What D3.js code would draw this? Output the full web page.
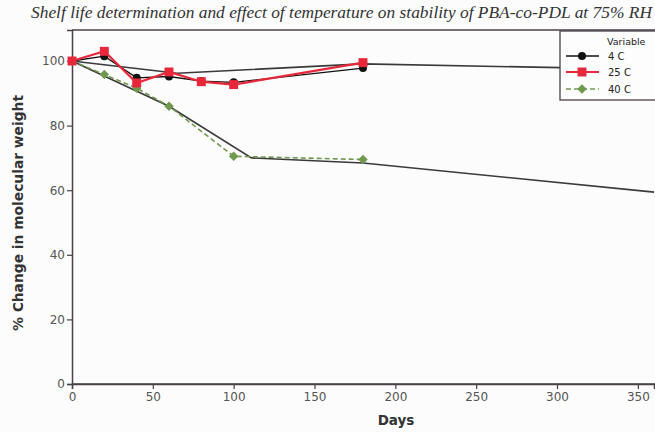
<!DOCTYPE html>
<html><head><meta charset="utf-8">
<script src="https://cdn.jsdelivr.net/npm/d3@7"></script>
<style>html,body{margin:0;padding:0;background:#fcfcfc;overflow:hidden}</style>
</head><body>
<svg id="c" width="655" height="432"></svg>
<script>
const titleText = "Shelf life determination and effect of temperature on stability of PBA-co-PDL at 75% RH";
const xLabel = "Days";
const yLabel = "% Change in molecular weight";
const xTicks = [0, 50, 100, 150, 200, 250, 300, 350];
const yTicks = [0, 20, 40, 60, 80, 100];
const seriesNames = ["4 C", "25 C", "40 C"];
const days = [0, 20, 40, 60, 80, 100, 180];
const days40 = [0, 20, 40, 60, 100, 180];
const values4 = [100, 101.5, 94.8, 95.2, 93.8, 93.4, 97.8];
const values25 = [100, 103, 93.2, 96.6, 93.6, 92.7, 99.5];
const values40 = [100, 95.8, 91.6, 86, 70.5, 69.5];
const trend4Days = [0, 65, 180, 360];
const trend4Vals = [100, 96.2, 99.1, 97.4];
const trend40Days = [0, 60, 111, 180, 360];
const trend40Vals = [100, 86, 70, 68.4, 59.4];

const svg = d3.select("#c");
const x = d3.scaleLinear().domain([0, 360]).range([72, 654]);
const y = d3.scaleLinear().domain([0, 109.6]).range([384, 30]);
const axisCol = "#4a4048";

// title
svg.append("text").attr("x", 31).attr("y", 18)
  .attr("font-family", "Liberation Serif").attr("font-style", "italic")
  .attr("font-size", 17).attr("fill", "#333")
  .attr("textLength", 621).attr("lengthAdjust", "spacingAndGlyphs").text(titleText);

// frame top
svg.append("line").attr("x1", 72).attr("x2", 655).attr("y1", 30).attr("y2", 30)
  .attr("stroke", axisCol).attr("stroke-width", 1.5);

const xa = svg.append("g").attr("transform", "translate(0,384)")
  .call(d3.axisBottom(x).tickValues(xTicks).tickSize(5).tickPadding(3));
const ya = svg.append("g").attr("transform", "translate(72,0)")
  .call(d3.axisLeft(y).tickValues(yTicks).tickSize(5).tickPadding(2));
[xa, ya].forEach(g => {
  g.select(".domain").attr("stroke", axisCol).attr("stroke-width", 1.5);
  g.selectAll(".tick line").attr("stroke", axisCol).attr("stroke-width", 1.2);
  g.selectAll("text").attr("font-family", "DejaVu Sans").attr("font-size", 12).attr("fill", "#555");
});
svg.append("line").attr("x1", 72).attr("x2", 655).attr("y1", 384).attr("y2", 384)
  .attr("stroke", axisCol).attr("stroke-width", 1.5);

svg.append("text").attr("x", 396).attr("y", 425).attr("text-anchor", "middle")
  .attr("font-family", "DejaVu Sans").attr("font-weight", "bold").attr("font-size", 13.5)
  .attr("fill", "#333").text(xLabel);
svg.append("text").attr("transform", "translate(23,213) rotate(-90)").attr("text-anchor", "middle")
  .attr("font-family", "DejaVu Sans").attr("font-weight", "bold").attr("font-size", 14)
  .attr("fill", "#333").attr("textLength", 236).attr("lengthAdjust", "spacingAndGlyphs").text(yLabel);

const line = d3.line().x(d => x(d[0])).y(d => y(d[1]));
const plot = svg.append("g");

plot.append("path").datum(trend4Days.map((d, i) => [d, trend4Vals[i]]))
  .attr("d", line).attr("fill", "none").attr("stroke", "#3a3a3a").attr("stroke-width", 1.6);
plot.append("path").datum(trend40Days.map((d, i) => [d, trend40Vals[i]]))
  .attr("d", line).attr("fill", "none").attr("stroke", "#3a3a3a").attr("stroke-width", 1.6);

const red = "#e8283a", green = "#6f9a4e";
const series = [
  {name: seriesNames[0], data: days.map((d, i) => [d, values4[i]]), color: "#111", width: 1.3, dash: null, sym: d3.symbolCircle, size: 50, rot: 0},
  {name: seriesNames[1], data: days.map((d, i) => [d, values25[i]]), color: red, width: 2.2, dash: null, sym: d3.symbolSquare, size: 80, rot: 0},
  {name: seriesNames[2], data: days40.map((d, i) => [d, values40[i]]), color: green, width: 1.6, dash: "5,3", sym: d3.symbolSquare, size: 45, rot: 45}
];
[series[2], series[0], series[1]].forEach(s => {
  plot.append("path").datum(s.data).attr("d", line).attr("fill", "none")
    .attr("stroke", s.color).attr("stroke-width", s.width).attr("stroke-dasharray", s.dash);
  plot.selectAll(null).data(s.data).enter().append("path")
    .attr("transform", d => `translate(${x(d[0])},${y(d[1])}) rotate(${s.rot})`)
    .attr("d", d3.symbol().type(s.sym).size(s.size)).attr("fill", s.color);
});

// legend
const lg = svg.append("g");
lg.append("rect").attr("x", 560).attr("y", 31).attr("width", 100).attr("height", 69)
  .attr("fill", "#fdfdfd").attr("stroke", axisCol).attr("stroke-width", 1.3);
lg.append("text").attr("x", 607).attr("y", 45).attr("font-family", "DejaVu Sans")
  .attr("font-size", 9.5).attr("fill", "#222").text("Variable");
series.forEach((s, i) => {
  const yy = [56, 72, 89][i];
  lg.append("line").attr("x1", 566).attr("x2", 599).attr("y1", yy).attr("y2", yy)
    .attr("stroke", s.color).attr("stroke-width", s.width).attr("stroke-dasharray", s.dash);
  lg.append("path").attr("transform", `translate(582,${yy}) rotate(${s.rot})`)
    .attr("d", d3.symbol().type(s.sym).size(s.size)).attr("fill", s.color);
  lg.append("text").attr("x", 608).attr("y", yy + 4).attr("font-family", "DejaVu Sans")
    .attr("font-size", 10).attr("fill", "#222").text(s.name);
});
</script>
</body></html>
